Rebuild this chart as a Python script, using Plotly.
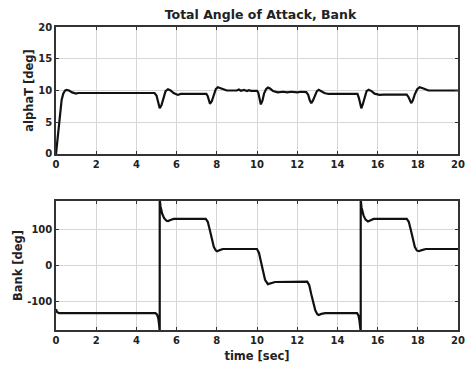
import plotly.graph_objects as go

# Total angle of attack history
alpha_t = [0, 0.08, 0.16, 0.22, 0.28, 0.36, 0.45, 0.52, 0.65, 0.8, 1.0, 1.1,
           4.9, 5.0, 5.08, 5.16, 5.25, 5.35, 5.45, 5.57, 5.7, 5.85, 6.06, 6.2,
           7.48, 7.55, 7.66, 7.75, 7.85, 7.95, 8.05, 8.2, 8.35, 8.5,
           9.0, 9.1, 9.2, 9.35, 9.5, 9.6, 9.7, 10.0,
           10.06, 10.12, 10.19, 10.27, 10.35, 10.45, 10.54, 10.65, 10.8, 11.03,
           11.3, 11.5, 11.7, 12.0, 12.2, 12.45,
           12.55, 12.62, 12.70, 12.78, 12.88, 12.98, 13.07, 13.2, 13.35, 13.56,
           15.0, 15.07, 15.13, 15.19, 15.26, 15.35, 15.45, 15.55, 15.7, 15.85, 16.09, 16.3,
           17.45, 17.55, 17.62, 17.67, 17.75, 17.85, 17.97, 18.09, 18.25, 18.4, 18.53, 20.0]
alpha_deg = [0, 2.5, 4.9, 7.0, 8.5, 9.5, 10.0, 10.1, 10.0, 9.7, 9.5, 9.6,
             9.6, 9.2, 8.0, 7.2, 7.7, 9.0, 9.9, 10.2, 10.0, 9.6, 9.3, 9.45,
             9.45, 9.1, 7.9, 8.3, 9.4, 10.2, 10.5, 10.35, 10.1, 10.0,
             10.0, 10.15, 9.95, 10.1, 9.9, 10.05, 9.95, 9.95,
             9.7, 8.6, 7.8, 8.4, 9.5, 10.2, 10.45, 10.3, 9.9, 9.7,
             9.8, 9.7, 9.8, 9.7, 9.8, 9.75,
             9.3, 8.5, 8.0, 8.4, 9.3, 9.9, 10.1, 9.9, 9.6, 9.45,
             9.45, 8.8, 7.8, 7.2, 7.8, 9.0, 9.9, 10.1, 9.9, 9.5, 9.3, 9.35,
             9.35, 8.9, 8.2, 8.0, 8.4, 9.4, 10.2, 10.5, 10.35, 10.1, 10.0, 10.0]

# Bank angle history (wraps at +/-180 deg)
bank_t = [0, 0.05, 0.15, 4.95, 5.03, 5.09, 5.13, 5.16,
          5.16, 5.2, 5.28, 5.38, 5.5, 5.57, 5.7, 5.85,
          7.45, 7.55, 7.65, 7.75, 7.85, 7.95, 8.02, 8.15, 8.3,
          10.0, 10.1, 10.2, 10.3, 10.4, 10.54, 10.7, 10.9,
          12.5, 12.6, 12.7, 12.8, 12.9, 13.0, 13.07, 13.2, 13.4,
          14.98, 15.05, 15.1, 15.14, 15.16,
          15.16, 15.2, 15.3, 15.4, 15.52, 15.65, 15.8,
          17.45, 17.55, 17.65, 17.75, 17.85, 17.95, 18.05, 18.2, 18.4, 20.0]
bank_deg = [-122, -130, -133, -133, -137, -148, -165, -185,
            185, 165, 145, 132, 125, 124, 127, 130,
            130, 122, 100, 75, 52, 42, 40, 43, 46,
            46, 35, 10, -15, -40, -52, -50, -46,
            -45, -55, -80, -105, -125, -136, -138, -135, -133,
            -133, -140, -155, -170, -185,
            185, 162, 140, 128, 123, 127, 130,
            130, 122, 100, 75, 52, 42, 40, 43, 46, 46]

time_ticks = list(range(0, 21, 2))
alpha_ticks = [0, 5, 10, 15, 20]
bank_ticks = [-100, 0, 100]
bank_tick_labels = ["-100", "0", "100"]

family = "DejaVu Sans, sans-serif"
tick_font = dict(family=family, size=10, color="#222222", weight="bold")
label_font = dict(family=family, size=11.5, color="#222222", weight="bold")
title_font = dict(family=family, size=12.5, color="#222222", weight="bold")
grid = "#d6d6d6"
axis_common = dict(showline=True, linecolor="#333333", linewidth=1.5, mirror="ticks",
                   ticks="inside", ticklen=3, tickcolor="#333333",
                   showgrid=True, gridcolor=grid, gridwidth=1, zeroline=False,
                   tickfont=tick_font)

fig = go.Figure()
fig.add_trace(go.Scatter(x=alpha_t, y=alpha_deg, mode="lines",
                         line=dict(color="#111111", width=2.2),
                         xaxis="x", yaxis="y", showlegend=False))
fig.add_trace(go.Scatter(x=bank_t, y=bank_deg, mode="lines",
                         line=dict(color="#111111", width=2.2),
                         xaxis="x2", yaxis="y2", showlegend=False))

fig.update_layout(
    width=471, height=367,
    margin=dict(l=56, r=6, t=27, b=37),
    paper_bgcolor="white", plot_bgcolor="white",
    font=tick_font,
    title=dict(text="Total Angle of Attack, Bank", x=0.553, xanchor="center",
               y=1 - 14.5 / 367, yanchor="middle", yref="container", font=title_font),
    xaxis=dict(domain=[0, 1], range=[0, 20], tickvals=time_ticks, anchor="y",
               **axis_common),
    yaxis=dict(domain=[0.581, 1], range=[0, 20], tickvals=alpha_ticks, anchor="x",
               title=dict(text="alphaT [deg]", font=label_font, standoff=2), **axis_common),
    xaxis2=dict(domain=[0, 1], range=[0, 20], tickvals=time_ticks, anchor="y2",
                title=dict(text="time [sec]", font=label_font, standoff=7), **axis_common),
    yaxis2=dict(domain=[0, 0.4257], range=[-180, 180], tickvals=bank_ticks,
                ticktext=bank_tick_labels, anchor="x2",
                title=dict(text="Bank [deg]", font=label_font, standoff=2), **axis_common),
)

fig.write_html("out.html")
